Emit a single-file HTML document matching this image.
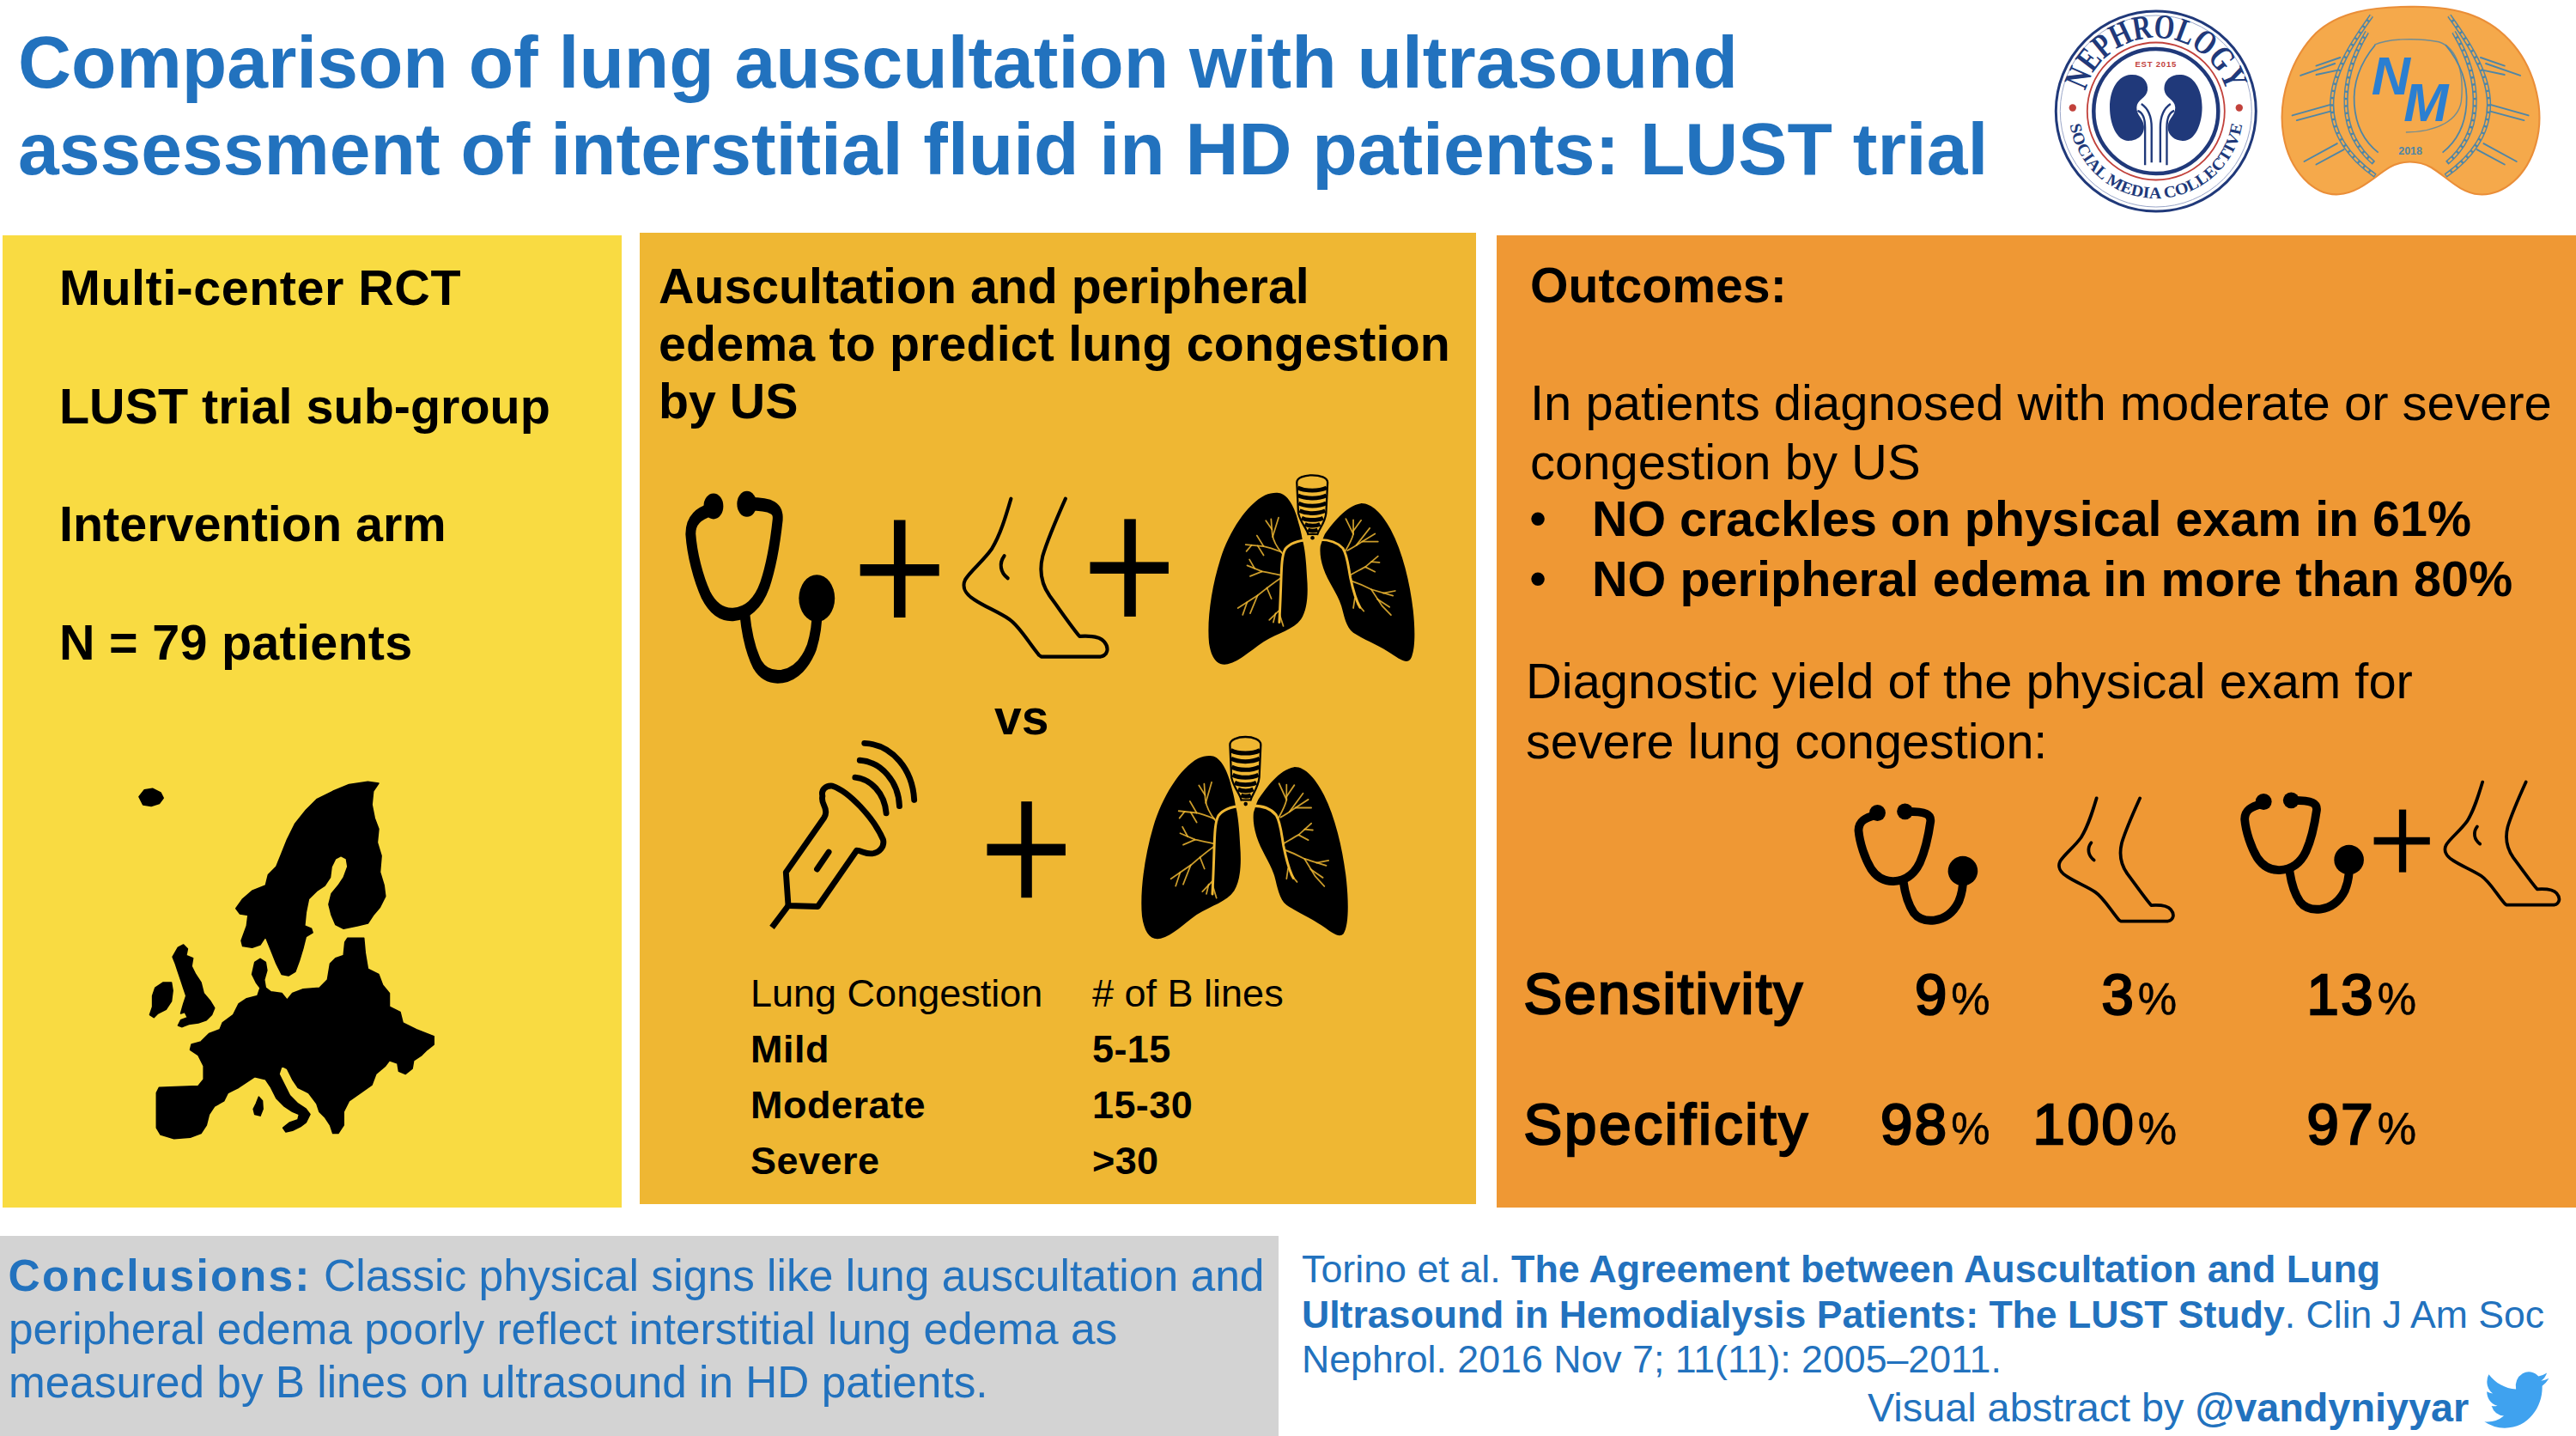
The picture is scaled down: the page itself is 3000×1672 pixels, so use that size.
<!DOCTYPE html>
<html lang="en"><head><meta charset="utf-8"><title>LUST trial visual abstract</title>
<style>
html,body{margin:0;padding:0;background:#fff;}
body{width:3000px;height:1672px;position:relative;overflow:hidden;font-family:"Liberation Sans", sans-serif;}
.t{position:absolute;white-space:pre;margin:0;padding:0;}
.b{position:absolute;}
svg{position:absolute;overflow:visible;}
</style></head>
<body>
<div class="b" style="left:2.5px;top:273.5px;width:721.5px;height:1132.0px;background:#f9db42"></div>
<div class="b" style="left:745px;top:271px;width:974px;height:1131px;background:#efb733"></div>
<div class="b" style="left:1742.5px;top:274px;width:1257.5px;height:1132px;background:#ef9834"></div>
<div class="b" style="left:0px;top:1439px;width:1489px;height:233px;background:#d3d3d3"></div>
<div class="t" style="left:21px;top:21.24px;font-size:85.85px;line-height:103.02px;font-weight:bold;color:#2272be;">Comparison of lung auscultation with ultrasound</div>
<div class="t" style="left:21px;top:122.44px;font-size:85.85px;line-height:103.02px;font-weight:bold;color:#2272be;">assessment of interstitial fluid in HD patients: LUST trial</div>
<div class="t" style="left:69px;top:301.08px;font-size:57.5px;line-height:69.0px;font-weight:bold;color:#000;letter-spacing:0.5px;">Multi-center RCT</div>
<div class="t" style="left:69px;top:438.58px;font-size:57.5px;line-height:69.0px;font-weight:bold;color:#000;letter-spacing:0px;">LUST trial sub-group</div>
<div class="t" style="left:69px;top:576.08px;font-size:57.5px;line-height:69.0px;font-weight:bold;color:#000;letter-spacing:0px;">Intervention arm</div>
<div class="t" style="left:69px;top:713.58px;font-size:57.5px;line-height:69.0px;font-weight:bold;color:#000;letter-spacing:0.27px;">N = 79 patients</div>
<div class="t" style="left:767px;top:298.77px;font-size:57.3px;line-height:68.76px;font-weight:bold;color:#000;letter-spacing:0px;">Auscultation and peripheral</div>
<div class="t" style="left:767px;top:365.77px;font-size:57.3px;line-height:68.76px;font-weight:bold;color:#000;letter-spacing:0.16px;">edema to predict lung congestion</div>
<div class="t" style="left:767px;top:432.77px;font-size:57.3px;line-height:68.76px;font-weight:bold;color:#000;letter-spacing:0px;">by US</div>
<div class="t" style="left:1158px;top:800.55px;font-size:57px;line-height:68.4px;font-weight:bold;color:#000;">vs</div>
<div class="t" style="left:874px;top:1130.41px;font-size:45px;line-height:54.0px;font-weight:normal;color:#000;letter-spacing:0px;">Lung Congestion</div>
<div class="t" style="left:1272px;top:1130.41px;font-size:45px;line-height:54.0px;font-weight:normal;color:#000;letter-spacing:0px;"># of B lines</div>
<div class="t" style="left:874px;top:1195.41px;font-size:45px;line-height:54.0px;font-weight:bold;color:#000;letter-spacing:0.5px;">Mild</div>
<div class="t" style="left:1272px;top:1195.41px;font-size:45px;line-height:54.0px;font-weight:bold;color:#000;letter-spacing:0.4px;">5-15</div>
<div class="t" style="left:874px;top:1260.41px;font-size:45px;line-height:54.0px;font-weight:bold;color:#000;letter-spacing:0.5px;">Moderate</div>
<div class="t" style="left:1272px;top:1260.41px;font-size:45px;line-height:54.0px;font-weight:bold;color:#000;letter-spacing:0.4px;">15-30</div>
<div class="t" style="left:874px;top:1325.41px;font-size:45px;line-height:54.0px;font-weight:bold;color:#000;letter-spacing:0.5px;">Severe</div>
<div class="t" style="left:1272px;top:1325.41px;font-size:45px;line-height:54.0px;font-weight:bold;color:#000;letter-spacing:0.4px;">&gt;30</div>
<div class="t" style="left:1782px;top:297.86px;font-size:57.2px;line-height:68.64px;font-weight:bold;color:#000;">Outcomes:</div>
<div class="t" style="left:1782px;top:433.60px;font-size:58px;line-height:69.6px;font-weight:normal;color:#000;">In patients diagnosed with moderate or severe</div>
<div class="t" style="left:1782px;top:503.10px;font-size:58px;line-height:69.6px;font-weight:normal;color:#000;">congestion by US</div>
<div class="t" style="left:1781px;top:569.18px;font-size:57.5px;line-height:69.0px;font-weight:normal;color:#000;">•</div>
<div class="t" style="left:1854px;top:570.17px;font-size:57.4px;line-height:68.88px;font-weight:bold;color:#000;">NO crackles on physical exam in 61%</div>
<div class="t" style="left:1781px;top:639.18px;font-size:57.5px;line-height:69.0px;font-weight:normal;color:#000;">•</div>
<div class="t" style="left:1854px;top:639.98px;font-size:57.6px;line-height:69.12px;font-weight:bold;color:#000;">NO peripheral edema in more than 80%</div>
<div class="t" style="left:1777px;top:759.20px;font-size:57.9px;line-height:69.48px;font-weight:normal;color:#000;">Diagnostic yield of the physical exam for</div>
<div class="t" style="left:1777px;top:828.58px;font-size:57.5px;line-height:69.0px;font-weight:normal;color:#000;">severe lung congestion:</div>
<div class="t" style="left:1774.5px;top:1117.08px;font-size:67px;line-height:80.4px;font-weight:normal;color:#000;letter-spacing:2.3px;-webkit-text-stroke:2.5px #000;">Sensitivity</div>
<div class="t" style="left:1774.5px;top:1268.58px;font-size:67px;line-height:80.4px;font-weight:normal;color:#000;letter-spacing:2.9px;-webkit-text-stroke:2.5px #000;">Specificity</div>
<div class="t" style="left:1917.5px;width:400px;text-align:right;top:1118.08px;font-size:67px;line-height:80.40px;-webkit-text-stroke:2.5px #000;letter-spacing:2.7px;">9<span style="font-size:51px;margin-left:2.3px;letter-spacing:0;-webkit-text-stroke:0.5px #000;">%</span></div>
<div class="t" style="left:2135px;width:400px;text-align:right;top:1118.08px;font-size:67px;line-height:80.40px;-webkit-text-stroke:2.5px #000;letter-spacing:2.7px;">3<span style="font-size:51px;margin-left:2.3px;letter-spacing:0;-webkit-text-stroke:0.5px #000;">%</span></div>
<div class="t" style="left:2414px;width:400px;text-align:right;top:1118.08px;font-size:67px;line-height:80.40px;-webkit-text-stroke:2.5px #000;letter-spacing:2.7px;">13<span style="font-size:51px;margin-left:2.3px;letter-spacing:0;-webkit-text-stroke:0.5px #000;">%</span></div>
<div class="t" style="left:1917.5px;width:400px;text-align:right;top:1268.58px;font-size:67px;line-height:80.40px;-webkit-text-stroke:2.5px #000;letter-spacing:2.7px;">98<span style="font-size:51px;margin-left:2.3px;letter-spacing:0;-webkit-text-stroke:0.5px #000;">%</span></div>
<div class="t" style="left:2135px;width:400px;text-align:right;top:1268.58px;font-size:67px;line-height:80.40px;-webkit-text-stroke:2.5px #000;letter-spacing:2.7px;">100<span style="font-size:51px;margin-left:2.3px;letter-spacing:0;-webkit-text-stroke:0.5px #000;">%</span></div>
<div class="t" style="left:2414px;width:400px;text-align:right;top:1268.58px;font-size:67px;line-height:80.40px;-webkit-text-stroke:2.5px #000;letter-spacing:2.7px;">97<span style="font-size:51px;margin-left:2.3px;letter-spacing:0;-webkit-text-stroke:0.5px #000;">%</span></div>
<div class="t" style="left:9.5px;top:1454.66px;font-size:51.6px;line-height:61.92px;font-weight:normal;color:#2272be;"><b style="letter-spacing:2.2px">Conclusions:</b> Classic physical signs like lung auscultation and</div>
<div class="t" style="left:10px;top:1517.35px;font-size:51.4px;line-height:61.68px;font-weight:normal;color:#2272be;">peripheral edema poorly reflect interstitial lung edema as</div>
<div class="t" style="left:10px;top:1578.94px;font-size:51.3px;line-height:61.56px;font-weight:normal;color:#2272be;">measured by B lines on ultrasound in HD patients.</div>
<div class="t" style="left:1516px;top:1450.60px;font-size:44.8px;line-height:53.76px;font-weight:normal;color:#2272be;">Torino et al. <b>The Agreement between Auscultation and Lung</b></div>
<div class="t" style="left:1516px;top:1503.79px;font-size:44.6px;line-height:53.52px;font-weight:normal;color:#2272be;"><b>Ultrasound in Hemodialysis Patients: The LUST Study</b>. Clin J Am Soc</div>
<div class="t" style="left:1516px;top:1556.19px;font-size:44.7px;line-height:53.64px;font-weight:normal;color:#2272be;">Nephrol. 2016 Nov 7; 11(11): 2005–2011.</div>
<div class="t" style="left:2175px;top:1611.20px;font-size:46.8px;line-height:56.16px;font-weight:normal;color:#2272be;">Visual abstract by <b>@vandyniyyar</b></div>
<svg width="3000" height="1672" style="left:0;top:0" viewBox="0 0 3000 1672"><g transform="translate(140,890) scale(0.31348)" fill="#000" stroke="#000" stroke-width="5" stroke-linejoin="round">
<path d="M500,735 L520,722 L540,735 L545,765 L535,800 L540,830 L560,845 L600,850 L620,875 L640,850 L680,835 L740,830 L770,800 L780,740 L800,720 L830,710 L835,660 L845,645 L905,645 L910,700 L920,760 L960,780 L975,820 L1000,850 L1000,900 L1040,920 L1050,960 L1100,985 L1165,1010 L1165,1040 L1140,1060 L1120,1080 L1090,1100 L1085,1130 L1060,1150 L1035,1140 L1030,1110 L1000,1100 L985,1120 L950,1150 L935,1190 L900,1215 L850,1250 L830,1290 L830,1340 L810,1370 L790,1370 L780,1340 L760,1310 L740,1290 L730,1260 L700,1220 L660,1200 L640,1170 L620,1130 L600,1120 L590,1150 L610,1190 L630,1230 L660,1260 L690,1280 L705,1300 L690,1330 L670,1345 L640,1360 L615,1365 L605,1350 L630,1330 L660,1320 L665,1300 L640,1290 L610,1270 L580,1240 L560,1200 L540,1170 L500,1160 L470,1180 L440,1200 L400,1220 L385,1250 L350,1270 L330,1300 L320,1340 L300,1370 L260,1385 L200,1390 L150,1375 L135,1350 L135,1220 L145,1200 L290,1195 L310,1170 L310,1120 L290,1080 L260,1060 L265,1040 L300,1030 L330,1000 L370,985 L380,960 L420,930 L440,890 L470,870 L510,860 L520,830 L505,810 L490,780 Z"/>
<path d="M960,70 L940,100 L935,150 L945,200 L960,240 L955,290 L970,340 L965,400 L980,450 L985,490 L965,530 L940,560 L920,590 L880,600 L830,610 L800,595 L785,560 L775,520 L785,480 L810,450 L830,420 L845,380 L840,350 L820,340 L800,350 L785,380 L780,420 L760,450 L730,470 L700,500 L690,550 L685,600 L710,610 L715,625 L690,640 L680,680 L665,730 L650,770 L625,785 L600,780 L580,740 L560,690 L540,640 L520,670 L490,680 L455,675 L450,655 L470,600 L475,560 L445,555 L430,535 L455,500 L490,470 L540,450 L550,410 L580,380 L600,330 L620,280 L650,220 L690,170 L730,130 L790,100 L850,75 L920,65 Z"/>
<path d="M70,120 L90,95 L120,90 L150,105 L160,125 L145,145 L115,155 L85,150 Z"/>
<path d="M215,680 L235,670 L250,685 L245,710 L270,720 L265,750 L280,780 L300,810 L310,850 L335,880 L350,905 L340,930 L320,950 L290,960 L255,965 L230,975 L215,970 L225,950 L250,940 L240,920 L225,925 L235,890 L245,860 L235,830 L225,800 L215,770 L205,740 L195,715 Z"/>
<path d="M130,830 L160,810 L190,810 L195,840 L190,880 L170,910 L140,925 L125,940 L110,930 L120,900 L120,860 Z"/>
<path d="M515,1235 L528,1250 L530,1280 L520,1305 L500,1300 L495,1280 L505,1260 Z"/>
</g></svg>

<svg width="3000" height="1672" style="left:0;top:0" viewBox="0 0 3000 1672"><g transform="translate(774.70,515.80) scale(0.19730,0.25830)"><g fill="none" stroke="#000" stroke-width="60" stroke-linecap="round" stroke-linejoin="round">
<path d="M272,300 C200,318 150,345 150,410 C158,500 195,610 240,685 C280,745 335,775 400,773 C480,770 548,725 588,640 C628,550 652,430 664,345 C668,298 640,274 485,275"/>
<path d="M470,775 C480,850 505,940 545,1000 C580,1045 630,1058 690,1052 C770,1042 830,990 865,920 C890,860 898,800 897,740"/>
</g>
<circle cx="285" cy="285" r="58" fill="#000"/><circle cx="482" cy="275" r="58" fill="#000"/>
<circle cx="895" cy="700" r="106" fill="#000"/></g>
<rect x="1001.7" y="657.0" width="92.0" height="13.5" fill="#000"/><rect x="1041.0" y="605.5" width="13.5" height="113.5" fill="#000"/>
<g transform="translate(798.50,543.00) scale(0.20480,0.20940)"><g fill="none" stroke="#000" stroke-width="20" stroke-linecap="round" stroke-linejoin="round">
<path d="M1850,180 C1820,280 1790,380 1740,460 C1690,530 1620,580 1590,630 C1570,670 1590,710 1640,740 C1700,780 1780,810 1840,850 C1900,890 1950,980 2010,1050 L2022,1058 L2360,1058 C2400,1050 2410,1010 2380,975 C2360,950 2320,940 2240,945 C2200,900 2130,800 2070,720 C2020,650 2010,580 2030,500 C2060,400 2110,290 2160,180"/>
<path d="M1812,498 C1780,540 1790,592 1832,622"/>
</g></g>
<rect x="1269.5" y="654.4" width="91.4" height="13.5" fill="#000"/><rect x="1309.3" y="604.4" width="13.5" height="113.5" fill="#000"/>
<g transform="translate(1395.00,540.00) scale(0.17410,0.17410)"><path fill="#000" d="M540,195 C600,200 650,290 675,400 C690,450 695,480 700,510 C715,560 725,650 730,760 C740,880 730,980 690,1040 C640,1110 540,1130 440,1190 C350,1250 280,1320 200,1340 C130,1355 90,1300 75,1200 C60,1050 90,830 150,640 C210,450 330,270 450,210 C480,198 510,192 540,195 Z"/>
<path fill="#000" d="M1090,265 C1160,262 1230,330 1290,440 C1370,590 1420,800 1440,980 C1455,1120 1455,1260 1420,1310 C1390,1340 1340,1300 1270,1255 C1200,1210 1100,1170 1040,1130 C990,1090 980,1020 960,950 C930,860 870,790 840,700 C820,640 815,590 820,550 C830,520 840,490 850,470 C900,400 990,280 1090,265 Z"/>
<path fill="#efb733" stroke="#000" stroke-width="13" d="M662,125 C662,60 868,60 868,125 L858,330 C850,400 812,430 800,472 L738,472 C728,430 690,400 672,330 Z"/>
<g fill="none" stroke="#000" stroke-width="27" stroke-linecap="butt">
<path d="M668,160 C720,185 810,185 862,160"/><path d="M670,212 C720,236 810,236 860,212"/><path d="M674,264 C720,288 810,288 858,264"/>
<path d="M680,314 C725,336 805,336 852,314"/><path d="M694,362 C730,380 800,380 838,362"/><path d="M716,404 C745,418 790,418 818,404"/><path d="M736,442 C755,450 780,450 802,442"/>
</g>
<ellipse cx="765" cy="112" rx="70" ry="20" fill="#efb733"/>
<path d="M738,478 L800,478 L800,520 L738,520 Z" fill="#efb733"/>
<circle cx="767" cy="496" r="13" fill="#000"/>
<g fill="none" stroke="#efb733" stroke-width="17" stroke-linecap="round" stroke-linejoin="round">
<path d="M742,508 C680,512 620,525 585,570 C562,610 560,680 556,800 C553,900 548,1000 545,1060"/>
<path d="M796,508 C860,505 930,520 970,565 C1000,610 1005,680 1020,760 C1035,830 1050,900 1085,960"/>
</g>
<g fill="none" stroke="#efb733" stroke-opacity="0.85" stroke-width="10" stroke-linecap="round" stroke-linejoin="round">
<path d="M565,600 C530,560 505,520 498,470 L490,370"/><path d="M500,490 L540,360"/><path d="M496,440 L455,380"/>
<path d="M560,590 C520,575 480,560 440,552 L320,540"/><path d="M440,552 L395,480"/><path d="M400,548 L440,612"/><path d="M360,544 L325,585"/>
<path d="M555,745 C510,735 470,728 430,720 L330,680"/><path d="M430,720 L350,752"/><path d="M380,700 L345,640"/>
<path d="M553,765 C500,800 450,840 400,880 L268,965"/><path d="M400,880 L350,1000"/><path d="M462,830 L492,902"/><path d="M330,925 L300,1010"/>
<path d="M545,980 L478,1045"/><path d="M546,1005 L572,1085"/><path d="M520,1000 L505,1060"/>
<path d="M985,585 C1010,545 1030,510 1040,470 L1040,375"/><path d="M1040,470 L990,368"/><path d="M1040,450 L1092,378"/>
<path d="M1000,580 C1040,560 1070,540 1100,520 L1185,468"/><path d="M1100,520 L1205,520"/><path d="M1060,545 L1150,430"/>
<path d="M1018,745 C1055,725 1090,705 1120,690 L1205,618"/><path d="M1120,690 L1185,722"/><path d="M1160,655 L1215,660"/>
<path d="M1030,785 C1075,800 1120,820 1160,840 L1305,882"/><path d="M1160,840 L1232,950 L1292,1012"/><path d="M1200,905 L1282,958"/><path d="M1240,865 L1320,850"/>
<path d="M1050,900 L1040,965"/><path d="M1070,940 L1110,985"/>
</g></g>
<g transform="translate(880.00,840.00) scale(0.18106,0.18106)"><g fill="none" stroke="#000" stroke-width="38" stroke-linecap="round" stroke-linejoin="round">
<path d="M430,480 C420,440 450,410 495,415 C600,450 760,620 820,760 C830,800 800,850 740,850 C700,850 680,830 650,830 L400,1190 L210,1185 L195,970 L440,620 C460,590 450,560 440,540 C430,520 425,500 430,480 Z"/>
<path d="M210,1185 L105,1325" stroke-linecap="butt"/>
<path d="M470,840 L395,950"/>
<path d="M640,360 C740,370 830,460 840,590"/>
<path d="M670,250 C810,260 920,390 925,545"/>
<path d="M700,140 C880,150 1010,310 1020,505"/>
</g></g>
<rect x="1149.5" y="982.6" width="91.4" height="13.5" fill="#000"/><rect x="1189.3" y="933.2" width="12.5" height="112.0" fill="#000"/>
<g transform="translate(1316.90,843.90) scale(0.17444,0.18580)"><path fill="#000" d="M540,195 C600,200 650,290 675,400 C690,450 695,480 700,510 C715,560 725,650 730,760 C740,880 730,980 690,1040 C640,1110 540,1130 440,1190 C350,1250 280,1320 200,1340 C130,1355 90,1300 75,1200 C60,1050 90,830 150,640 C210,450 330,270 450,210 C480,198 510,192 540,195 Z"/>
<path fill="#000" d="M1090,265 C1160,262 1230,330 1290,440 C1370,590 1420,800 1440,980 C1455,1120 1455,1260 1420,1310 C1390,1340 1340,1300 1270,1255 C1200,1210 1100,1170 1040,1130 C990,1090 980,1020 960,950 C930,860 870,790 840,700 C820,640 815,590 820,550 C830,520 840,490 850,470 C900,400 990,280 1090,265 Z"/>
<path fill="#efb733" stroke="#000" stroke-width="13" d="M662,125 C662,60 868,60 868,125 L858,330 C850,400 812,430 800,472 L738,472 C728,430 690,400 672,330 Z"/>
<g fill="none" stroke="#000" stroke-width="27" stroke-linecap="butt">
<path d="M668,160 C720,185 810,185 862,160"/><path d="M670,212 C720,236 810,236 860,212"/><path d="M674,264 C720,288 810,288 858,264"/>
<path d="M680,314 C725,336 805,336 852,314"/><path d="M694,362 C730,380 800,380 838,362"/><path d="M716,404 C745,418 790,418 818,404"/><path d="M736,442 C755,450 780,450 802,442"/>
</g>
<ellipse cx="765" cy="112" rx="70" ry="20" fill="#efb733"/>
<path d="M738,478 L800,478 L800,520 L738,520 Z" fill="#efb733"/>
<circle cx="767" cy="496" r="13" fill="#000"/>
<g fill="none" stroke="#efb733" stroke-width="17" stroke-linecap="round" stroke-linejoin="round">
<path d="M742,508 C680,512 620,525 585,570 C562,610 560,680 556,800 C553,900 548,1000 545,1060"/>
<path d="M796,508 C860,505 930,520 970,565 C1000,610 1005,680 1020,760 C1035,830 1050,900 1085,960"/>
</g>
<g fill="none" stroke="#efb733" stroke-opacity="0.85" stroke-width="10" stroke-linecap="round" stroke-linejoin="round">
<path d="M565,600 C530,560 505,520 498,470 L490,370"/><path d="M500,490 L540,360"/><path d="M496,440 L455,380"/>
<path d="M560,590 C520,575 480,560 440,552 L320,540"/><path d="M440,552 L395,480"/><path d="M400,548 L440,612"/><path d="M360,544 L325,585"/>
<path d="M555,745 C510,735 470,728 430,720 L330,680"/><path d="M430,720 L350,752"/><path d="M380,700 L345,640"/>
<path d="M553,765 C500,800 450,840 400,880 L268,965"/><path d="M400,880 L350,1000"/><path d="M462,830 L492,902"/><path d="M330,925 L300,1010"/>
<path d="M545,980 L478,1045"/><path d="M546,1005 L572,1085"/><path d="M520,1000 L505,1060"/>
<path d="M985,585 C1010,545 1030,510 1040,470 L1040,375"/><path d="M1040,470 L990,368"/><path d="M1040,450 L1092,378"/>
<path d="M1000,580 C1040,560 1070,540 1100,520 L1185,468"/><path d="M1100,520 L1205,520"/><path d="M1060,545 L1150,430"/>
<path d="M1018,745 C1055,725 1090,705 1120,690 L1205,618"/><path d="M1120,690 L1185,722"/><path d="M1160,655 L1215,660"/>
<path d="M1030,785 C1075,800 1120,820 1160,840 L1305,882"/><path d="M1160,840 L1232,950 L1292,1012"/><path d="M1200,905 L1282,958"/><path d="M1240,865 L1320,850"/>
<path d="M1050,900 L1040,965"/><path d="M1070,940 L1110,985"/>
</g></g>
<g transform="translate(2140.00,900.00) scale(0.16305,0.16305)"><g fill="none" stroke="#000" stroke-width="60" stroke-linecap="round" stroke-linejoin="round">
<path d="M272,300 C200,318 150,345 150,410 C158,500 195,610 240,685 C280,745 335,775 400,773 C480,770 548,725 588,640 C628,550 652,430 664,345 C668,298 640,274 485,275"/>
<path d="M470,775 C480,850 505,940 545,1000 C580,1045 630,1058 690,1052 C770,1042 830,990 865,920 C890,860 898,800 897,740"/>
</g>
<circle cx="285" cy="285" r="58" fill="#000"/><circle cx="482" cy="275" r="58" fill="#000"/>
<circle cx="895" cy="700" r="106" fill="#000"/></g>
<g transform="translate(2140.00,900.00) scale(0.16305,0.16305)"><g fill="none" stroke="#000" stroke-width="23" stroke-linecap="round" stroke-linejoin="round">
<path d="M1850,180 C1820,280 1790,380 1740,460 C1690,530 1620,580 1590,630 C1570,670 1590,710 1640,740 C1700,780 1780,810 1840,850 C1900,890 1950,980 2010,1050 L2022,1058 L2360,1058 C2400,1050 2410,1010 2380,975 C2360,950 2320,940 2240,945 C2200,900 2130,800 2070,720 C2020,650 2010,580 2030,500 C2060,400 2110,290 2160,180"/>
<path d="M1812,498 C1780,540 1790,592 1832,622"/>
</g></g>
<g transform="translate(2589.70,887.00) scale(0.16305,0.16305)"><g fill="none" stroke="#000" stroke-width="60" stroke-linecap="round" stroke-linejoin="round">
<path d="M272,300 C200,318 150,345 150,410 C158,500 195,610 240,685 C280,745 335,775 400,773 C480,770 548,725 588,640 C628,550 652,430 664,345 C668,298 640,274 485,275"/>
<path d="M470,775 C480,850 505,940 545,1000 C580,1045 630,1058 690,1052 C770,1042 830,990 865,920 C890,860 898,800 897,740"/>
</g>
<circle cx="285" cy="285" r="58" fill="#000"/><circle cx="482" cy="275" r="58" fill="#000"/>
<circle cx="895" cy="700" r="106" fill="#000"/></g>
<rect x="2764.6" y="974.8" width="65.2" height="8.6" fill="#000"/><rect x="2793.9" y="942.6" width="8.3" height="73.0" fill="#000"/>
<g transform="translate(2589.50,881.20) scale(0.16305,0.16305)"><g fill="none" stroke="#000" stroke-width="23" stroke-linecap="round" stroke-linejoin="round">
<path d="M1850,180 C1820,280 1790,380 1740,460 C1690,530 1620,580 1590,630 C1570,670 1590,710 1640,740 C1700,780 1780,810 1840,850 C1900,890 1950,980 2010,1050 L2022,1058 L2360,1058 C2400,1050 2410,1010 2380,975 C2360,950 2320,940 2240,945 C2200,900 2130,800 2070,720 C2020,650 2010,580 2030,500 C2060,400 2110,290 2160,180"/>
<path d="M1812,498 C1780,540 1790,592 1832,622"/>
</g></g>
<g transform="translate(2893.30,1589.75) scale(3.12500,3.35385)"><path fill="#3fa2ef" d="M23.953 4.57a10 10 0 01-2.825.775 4.958 4.958 0 002.163-2.723c-.951.555-2.005.959-3.127 1.184a4.92 4.92 0 00-8.384 4.482C7.69 8.095 4.067 6.13 1.64 3.162a4.822 4.822 0 00-.666 2.475c0 1.71.87 3.213 2.188 4.096a4.904 4.904 0 01-2.228-.616v.06a4.923 4.923 0 003.946 4.827 4.996 4.996 0 01-2.212.085 4.936 4.936 0 004.604 3.417 9.867 9.867 0 01-6.102 2.105c-.39 0-.779-.023-1.17-.067a13.995 13.995 0 007.557 2.209c9.053 0 13.998-7.496 13.998-13.985 0-.21 0-.42-.015-.63A9.935 9.935 0 0024 4.59z"/></g></svg>
<svg width="3000" height="1672" style="left:0;top:0" viewBox="0 0 3000 1672"><defs><path id="nsmcTop" d="M2428.61,105.93 A85.5,85.5 0 0 1 2592.99,105.93"/><path id="nsmcBot" d="M2410.55,145.38 A101.5,101.5 0 0 0 2611.05,145.38"/></defs>
<circle cx="2510.8" cy="129.5" r="116.5" fill="#fff" stroke="#20397a" stroke-width="3"/>
<circle cx="2510.8" cy="129.5" r="111.5" fill="none" stroke="#9aa6c8" stroke-width="1"/>
<circle cx="2510.8" cy="129.5" r="80" fill="none" stroke="#c2413b" stroke-width="1.8"/>
<circle cx="2510.8" cy="129.5" r="72.5" fill="none" stroke="#20397a" stroke-width="4.5"/>
<g transform="translate(2510.8,129.5) scale(0.1810610175629187,0.1810610175629187) translate(-722,-715)"><path d="M560,480 C630,475 675,520 668,580 C662,630 600,640 598,690 C596,740 640,760 645,810 C650,870 600,905 545,905 C470,905 425,800 425,690 C425,570 480,485 560,480 Z" fill="#20397a"/><path d="M604,712 C640,725 652,765 652,820 L652,1062" fill="none" stroke="#20397a" stroke-width="13"/><path d="M628,668 C676,700 694,750 694,820 L694,1045" fill="none" stroke="#20397a" stroke-width="13"/></g><g transform="translate(2510.8,129.5) scale(-0.1810610175629187,0.1810610175629187) translate(-722,-715)"><path d="M560,480 C630,475 675,520 668,580 C662,630 600,640 598,690 C596,740 640,760 645,810 C650,870 600,905 545,905 C470,905 425,800 425,690 C425,570 480,485 560,480 Z" fill="#20397a"/><path d="M604,712 C640,725 652,765 652,820 L652,1062" fill="none" stroke="#20397a" stroke-width="13"/><path d="M628,668 C676,700 694,750 694,820 L694,1045" fill="none" stroke="#20397a" stroke-width="13"/></g>
<circle cx="2413.8" cy="125.5" r="4.2" fill="#c2413b"/><circle cx="2607.8" cy="125.5" r="4.2" fill="#c2413b"/>
<text font-family="'Liberation Serif', serif" font-weight="bold" font-size="40" fill="#20397a"><textPath href="#nsmcTop" textLength="220.9" lengthAdjust="spacingAndGlyphs">NEPHROLOGY</textPath></text>
<text font-family="'Liberation Serif', serif" font-weight="bold" font-size="19" fill="#20397a"><textPath href="#nsmcBot" textLength="287.0" lengthAdjust="spacingAndGlyphs">SOCIAL MEDIA COLLECTIVE</textPath></text>
<text x="2510.8" y="77.5" text-anchor="middle" font-family="'Liberation Sans', sans-serif" font-weight="bold" font-size="9.5" letter-spacing="0.8" fill="#c2413b">EST 2015</text><g transform="translate(2640,0) scale(0.17409)">
<path d="M960,45 C1300,40 1500,120 1650,300 C1800,480 1860,750 1800,960 C1740,1180 1580,1310 1420,1300 C1290,1290 1200,1180 1100,1120 C1010,1070 900,1070 820,1120 C720,1180 620,1290 480,1300 C320,1310 150,1150 110,900 C70,650 170,380 330,220 C480,80 700,45 960,45 Z" fill="#f5a94b" stroke="#ea8e38" stroke-width="12"/>
<g  fill="none" stroke-linecap="butt">
<path d="M700,105 C560,300 435,500 435,700 C435,900 560,1060 725,1175" stroke="#4f86a6" stroke-width="30"/><path d="M700,105 C560,300 435,500 435,700 C435,900 560,1060 725,1175" stroke="#f5a94b" stroke-width="13" stroke-dasharray="34 14"/>
<path d="M670,215 C565,390 520,560 530,720 C540,880 610,1000 715,1090" stroke="#4f86a6" stroke-width="30"/><path d="M670,215 C565,390 520,560 530,720 C540,880 610,1000 715,1090" stroke="#f5a94b" stroke-width="13" stroke-dasharray="34 14"/>
<path d="M725,300 C625,420 575,560 585,700 C595,840 655,950 745,1020" stroke="#4f86a6" stroke-width="10"/>
<g stroke="#4f86a6" stroke-width="11" stroke-linecap="round">
<path d="M455,425 L225,505 M490,385 L330,440 M470,470 L330,500"/>
<path d="M425,700 L170,772 M425,745 L200,805"/>
<path d="M470,960 L250,1080 M515,1000 L330,1100"/>
</g></g><g transform="translate(1920,0) scale(-1,1)" fill="none" stroke-linecap="butt">
<path d="M700,105 C560,300 435,500 435,700 C435,900 560,1060 725,1175" stroke="#4f86a6" stroke-width="30"/><path d="M700,105 C560,300 435,500 435,700 C435,900 560,1060 725,1175" stroke="#f5a94b" stroke-width="13" stroke-dasharray="34 14"/>
<path d="M670,215 C565,390 520,560 530,720 C540,880 610,1000 715,1090" stroke="#4f86a6" stroke-width="30"/><path d="M670,215 C565,390 520,560 530,720 C540,880 610,1000 715,1090" stroke="#f5a94b" stroke-width="13" stroke-dasharray="34 14"/>
<path d="M725,300 C625,420 575,560 585,700 C595,840 655,950 745,1020" stroke="#4f86a6" stroke-width="10"/>
<g stroke="#4f86a6" stroke-width="11" stroke-linecap="round">
<path d="M455,425 L225,505 M490,385 L330,440 M470,470 L330,500"/>
<path d="M425,700 L170,772 M425,745 L200,805"/>
<path d="M470,960 L250,1080 M515,1000 L330,1100"/>
</g></g>
<path d="M720,300 C800,260 1000,250 1150,280 C1280,320 1320,500 1300,680 C1280,800 1150,880 930,885" fill="none" stroke="#4f86a6" stroke-width="8" opacity="0.8"/>
<text x="700" y="630" font-family="'Liberation Sans', sans-serif" font-weight="bold" font-style="italic" font-size="360" fill="#2b7fd1">N</text>
<text x="915" y="810" font-family="'Liberation Sans', sans-serif" font-weight="bold" font-style="italic" font-size="360" fill="#2b7fd1">M</text>
<text x="960" y="1035" text-anchor="middle" font-family="'Liberation Sans', sans-serif" font-weight="bold" font-size="72" fill="#4f86a6">2018</text>
</g></svg>
</body></html>
